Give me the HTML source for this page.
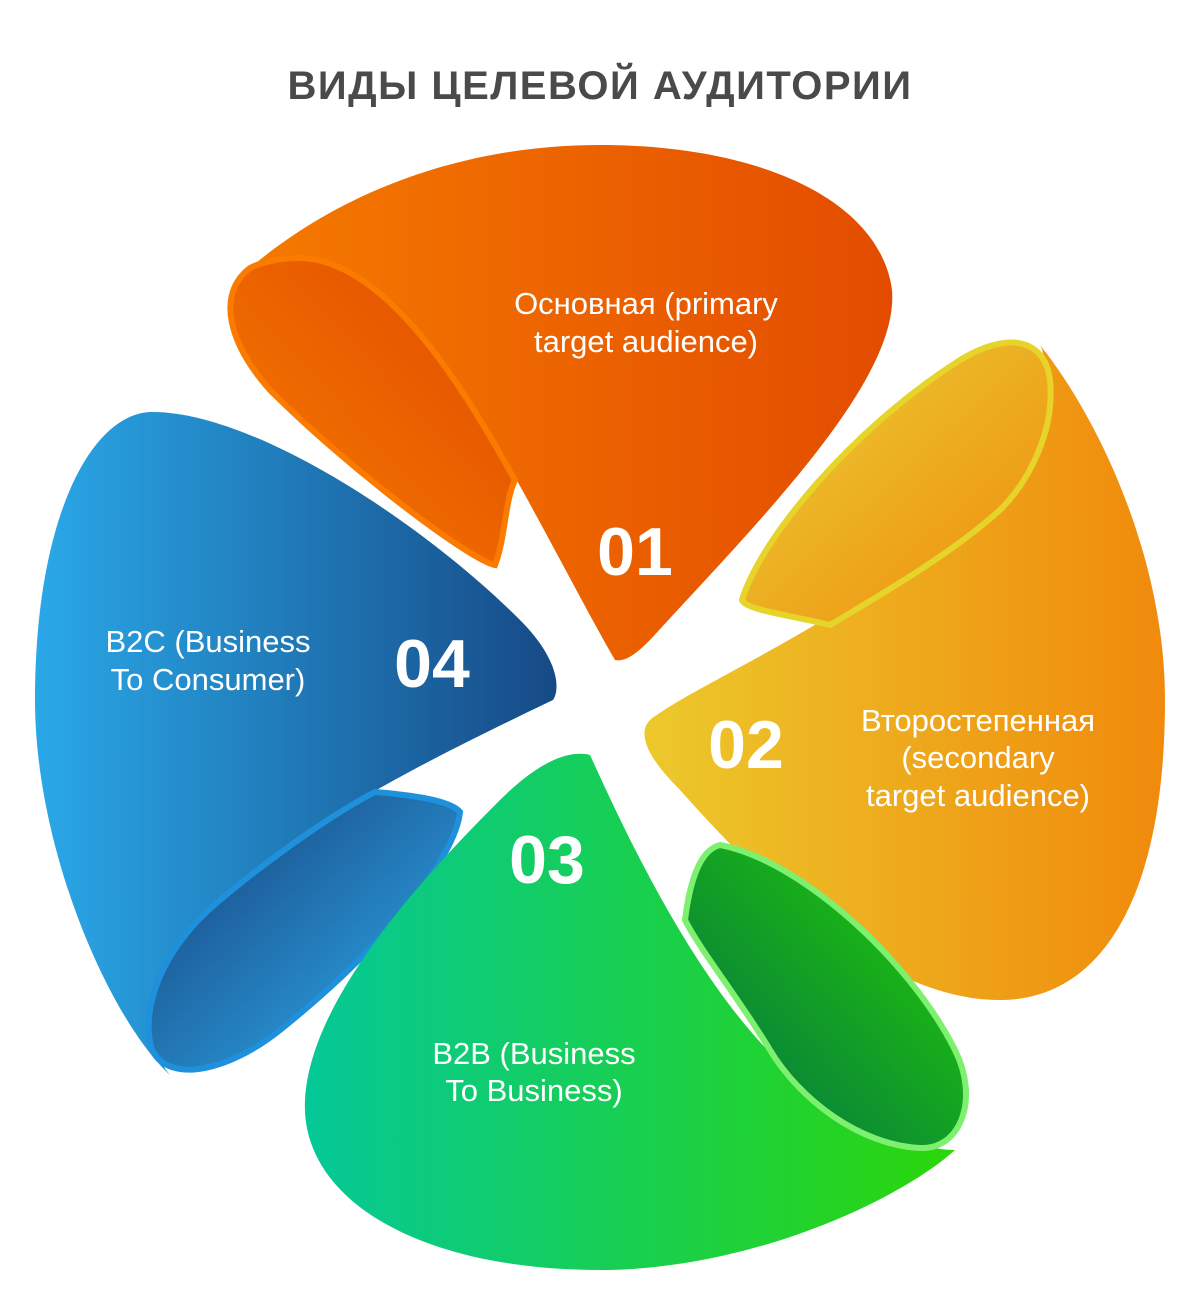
<!DOCTYPE html>
<html><head><meta charset="utf-8"><style>
html,body{margin:0;padding:0;background:#fff;}
svg{display:block}
text{font-family:"Liberation Sans","DejaVu Sans",sans-serif;}
</style></head><body>
<svg width="1200" height="1312" viewBox="0 0 1200 1312" xmlns="http://www.w3.org/2000/svg">
<defs>
<linearGradient id="o1" x1="0" y1="0" x2="1" y2="0"><stop offset="0" stop-color="#f57a00"/><stop offset="1" stop-color="#e34c00"/></linearGradient>
<linearGradient id="o1f" x1="0" y1="1" x2="1" y2="0"><stop offset="0" stop-color="#f67c00"/><stop offset="1" stop-color="#e14a00"/></linearGradient>
<linearGradient id="y2" x1="0" y1="0" x2="1" y2="0"><stop offset="0" stop-color="#ecc92c"/><stop offset="1" stop-color="#f08a0c"/></linearGradient>
<linearGradient id="y2f" x1="0" y1="0" x2="1" y2="1"><stop offset="0" stop-color="#e9d036"/><stop offset="1" stop-color="#f08a0c"/></linearGradient>
<linearGradient id="g3" x1="0" y1="0" x2="1" y2="0"><stop offset="0" stop-color="#05c898"/><stop offset="1" stop-color="#2bd60a"/></linearGradient>
<linearGradient id="g3f" x1="1" y1="0" x2="0" y2="1"><stop offset="0" stop-color="#25d000"/><stop offset="1" stop-color="#006e4a"/></linearGradient>
<linearGradient id="b4" x1="0" y1="0" x2="1" y2="0"><stop offset="0" stop-color="#2aa8e8"/><stop offset="1" stop-color="#164a86"/></linearGradient>
<linearGradient id="b4f" x1="1" y1="1" x2="0" y2="0"><stop offset="0" stop-color="#2fb0f0"/><stop offset="1" stop-color="#163e7a"/></linearGradient>
</defs>
<text x="600" y="99" text-anchor="middle" font-size="40" font-weight="bold" fill="#4a4a4a" letter-spacing="1.5">ВИДЫ ЦЕЛЕВОЙ АУДИТОРИИ</text>

<!-- 04 blue -->
<path d="M553,700 C470,740 300,820 220,900 C150,970 140,1040 170,1075 C110,1020 35,850 35,700 C35,520 90,415 150,412 C250,410 420,520 520,620 C560,660 560,690 553,700 Z" fill="url(#b4)"/>
<path d="M460,812 C455,860 380,950 280,1030 C230,1070 170,1085 152,1050 C140,1010 160,950 220,900 C280,850 340,810 375,792 C410,795 450,800 460,812 Z" fill="url(#b4f)" stroke="#1e90dc" stroke-width="6"/>

<!-- 01 orange -->
<path d="M615,660 C580,600 520,480 470,400 C420,320 330,250 250,268 C330,200 450,145 600,145 C760,145 880,200 892,290 C900,380 760,520 650,640 C635,655 625,662 615,660 Z" fill="url(#o1)"/>
<path d="M250,268 C215,295 230,345 270,390 C350,470 470,560 495,565 C505,540 505,500 515,480 C470,400 390,260 300,258 C280,258 262,262 250,268 Z" fill="url(#o1f)" stroke="#fb7a00" stroke-width="6"/>

<!-- 02 yellow -->
<path d="M650,720 C700,680 900,600 1000,480 C1040,420 1050,360 1040,345 C1100,420 1165,560 1165,700 C1165,900 1100,1000 1000,1000 C880,1000 760,880 680,790 C640,750 640,730 650,720 Z" fill="url(#y2)"/>
<path d="M742,600 C760,540 850,430 960,360 C1010,330 1045,340 1050,380 C1055,430 1030,480 1000,510 C950,555 880,595 830,625 C790,615 745,610 742,600 Z" fill="url(#y2f)" stroke="#e6d42a" stroke-width="6"/>

<!-- 03 green -->
<path d="M590,755 C620,820 700,1000 800,1080 C860,1130 920,1150 955,1150 C900,1200 750,1270 600,1270 C420,1270 300,1200 305,1100 C310,1000 420,880 500,800 C540,760 570,750 590,755 Z" fill="url(#g3)"/>
<path d="M685,920 C690,880 700,850 720,845 C800,860 910,960 955,1050 C980,1100 960,1150 920,1148 C860,1145 800,1100 770,1050 C740,1000 700,950 685,920 Z" fill="url(#g3f)" stroke="#7ef070" stroke-width="6"/>

<g fill="#fff">
<text x="646" y="314" text-anchor="middle" font-size="31">Основная (primary</text>
<text x="646" y="352" text-anchor="middle" font-size="31">target audience)</text>
<text x="635" y="575" text-anchor="middle" font-size="68" font-weight="bold">01</text>
<text x="978" y="731" text-anchor="middle" font-size="31">Второстепенная</text>
<text x="978" y="768" text-anchor="middle" font-size="31">(secondary</text>
<text x="978" y="806" text-anchor="middle" font-size="31">target audience)</text>
<text x="746" y="768" text-anchor="middle" font-size="68" font-weight="bold">02</text>
<text x="547" y="883" text-anchor="middle" font-size="68" font-weight="bold">03</text>
<text x="534" y="1064" text-anchor="middle" font-size="31">B2B (Business</text>
<text x="534" y="1101" text-anchor="middle" font-size="31">To Business)</text>
<text x="432" y="687" text-anchor="middle" font-size="68" font-weight="bold">04</text>
<text x="208" y="652" text-anchor="middle" font-size="31">B2C (Business</text>
<text x="208" y="690" text-anchor="middle" font-size="31">To Consumer)</text>
</g>
</svg>
</body></html>
